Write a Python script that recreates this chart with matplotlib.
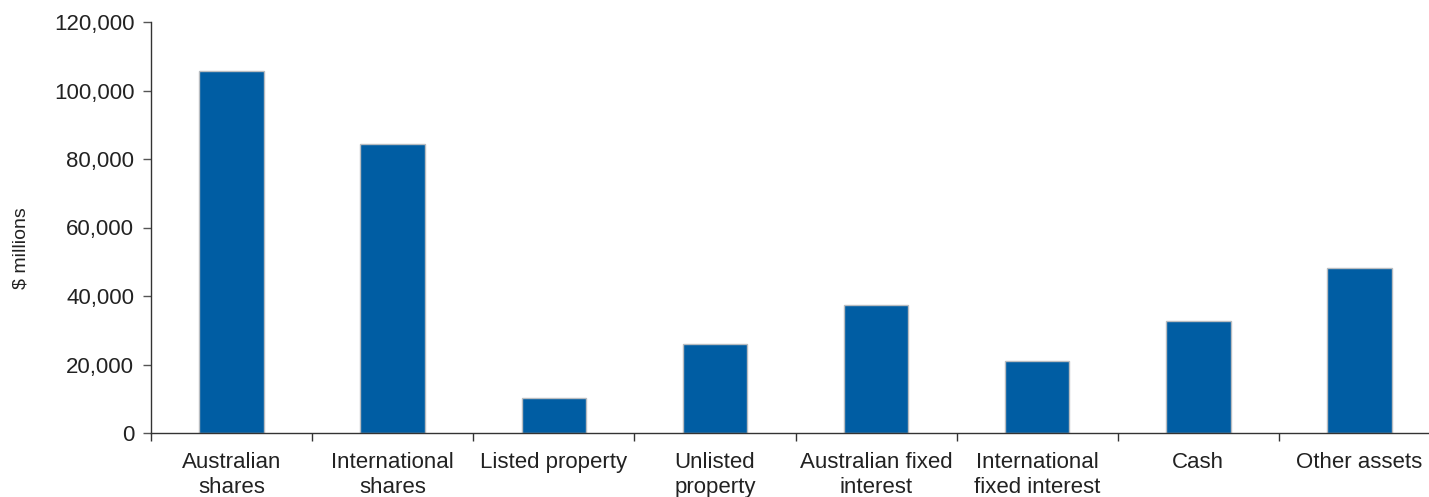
import numpy as np
import matplotlib.pyplot as plt
from matplotlib.ticker import FuncFormatter

categories = ['Australian\nshares', 'International\nshares', 'Listed property',
              'Unlisted\nproperty', 'Australian fixed\ninterest',
              'International\nfixed interest', 'Cash', 'Other assets']
values = [105700, 84400, 10100, 26100, 37300, 21000, 32700, 48200]

plt.rcParams['font.family'] = ['Liberation Sans', 'DejaVu Sans']

fig = plt.figure(figsize=(14.29, 4.97), dpi=100)
ax = fig.add_axes([151 / 1429, 64 / 497, 1289 / 1429, 411 / 497])

x = np.arange(len(categories))
ax.bar(x, values, width=0.4, color='#005DA3', edgecolor='#b8bcc0', linewidth=1)

ax.set_xlim(-0.5, len(categories) - 0.5)
ax.set_ylim(0, 120000)
ax.set_yticks(np.arange(0, 120001, 20000))
ax.yaxis.set_major_formatter(FuncFormatter(lambda v, p: f'{int(v):,}'))

# category labels centred, tick marks at category boundaries
ax.set_xticks(x)
ax.set_xticklabels(categories, fontsize=16, color='#222222', linespacing=1.25)
ax.tick_params(axis='x', which='major', length=0, pad=14)
ax.set_xticks(np.arange(-0.5, len(categories), 1), minor=True)
ax.tick_params(axis='x', which='minor', length=6, width=1, color='#333333')
ax.tick_params(axis='y', length=6, width=1, color='#555555', labelsize=16,
               labelcolor='#222222', pad=6)

for s in ['top', 'right']:
    ax.spines[s].set_visible(False)
for s in ['left', 'bottom']:
    ax.spines[s].set_color('#333333')
    ax.spines[s].set_linewidth(1)

ax.set_ylabel('$ millions', fontsize=14, color='#222222')
ax.yaxis.set_label_coords(-0.094, 0.45)

fig.savefig('out.png', dpi=100)
